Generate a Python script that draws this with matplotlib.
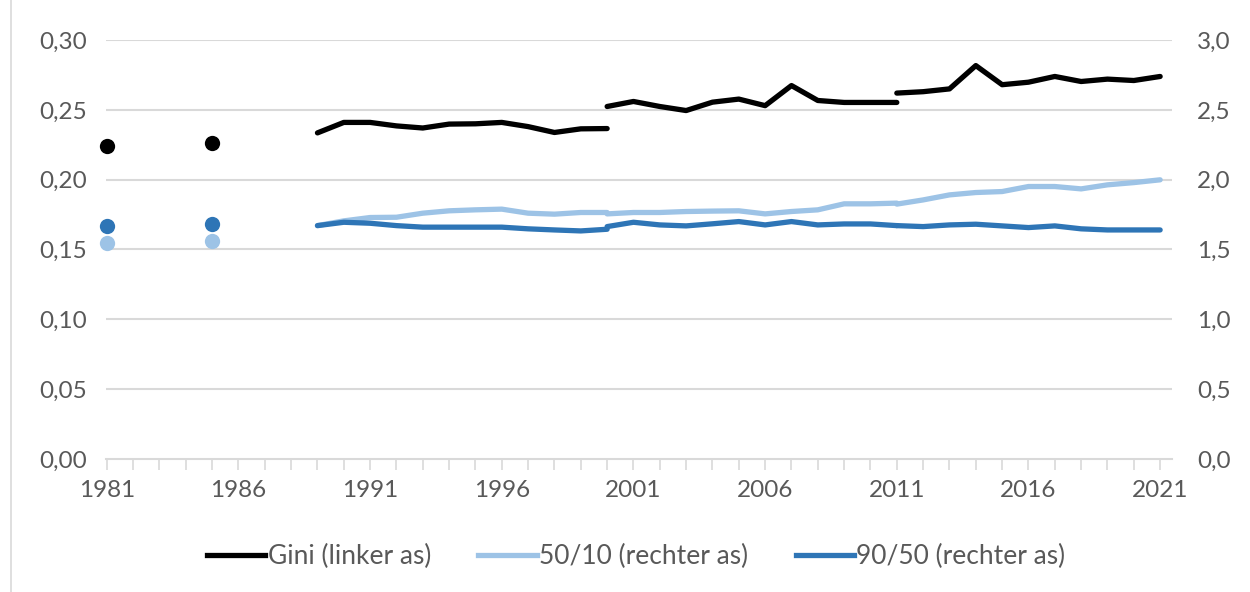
import matplotlib
matplotlib.use("Agg")
import matplotlib.pyplot as plt
from matplotlib.lines import Line2D
import numpy as np

# ---- data ----
dot_years = [1981, 1985]
gini_dots = [0.224, 0.226]
p5010_dots = [1.545, 1.562]
p9050_dots = [1.669, 1.681]

years_a = list(range(1989, 2001))
years_b = list(range(2000, 2012))
years_c = list(range(2011, 2022))

gini_a = [0.2335, 0.241, 0.241, 0.2385, 0.237, 0.2398, 0.240, 0.241, 0.238, 0.2338, 0.2364, 0.2366]
gini_b = [0.2524, 0.256, 0.2524, 0.2495, 0.2555, 0.2577, 0.253, 0.2674, 0.2567, 0.2553, 0.2553, 0.2553]
gini_c = [0.262, 0.263, 0.265, 0.2817, 0.268, 0.2698, 0.2739, 0.2703, 0.272, 0.271, 0.2739]

p5010_a = [1.671, 1.705, 1.729, 1.731, 1.760, 1.777, 1.784, 1.789, 1.760, 1.753, 1.765, 1.765]
p5010_b = [1.755, 1.765, 1.765, 1.772, 1.775, 1.777, 1.755, 1.772, 1.784, 1.827, 1.827, 1.832]
p5010_c = [1.825, 1.855, 1.891, 1.908, 1.915, 1.951, 1.951, 1.934, 1.963, 1.979, 1.999]

p9050_a = [1.671, 1.695, 1.688, 1.671, 1.660, 1.660, 1.660, 1.660, 1.648, 1.640, 1.633, 1.645]
p9050_b = [1.664, 1.695, 1.676, 1.669, 1.684, 1.700, 1.676, 1.700, 1.676, 1.683, 1.683, 1.671]
p9050_c = [1.671, 1.664, 1.676, 1.681, 1.669, 1.657, 1.669, 1.648, 1.640, 1.640, 1.640]

left_ticks = [0.00, 0.05, 0.10, 0.15, 0.20, 0.25, 0.30]
left_labels = ["0,00", "0,05", "0,10", "0,15", "0,20", "0,25", "0,30"]
right_ticks = [0.0, 0.5, 1.0, 1.5, 2.0, 2.5, 3.0]
right_labels = ["0,0", "0,5", "1,0", "1,5", "2,0", "2,5", "3,0"]
x_label_years = list(range(1981, 2022, 5))
legend_labels = ["Gini (linker as)", "50/10 (rechter as)", "90/50 (rechter as)"]

# ---- style ----
BLACK = "#000000"
LIGHT = "#9DC3E6"
DARK = "#2E75B6"
TXT = "#595959"
GRID = "#D9D9D9"
plt.rcParams['font.family'] = ['Lato', 'DejaVu Sans']
FS = 17.5
LFS = 19

fig = plt.figure(figsize=(12.5, 5.92), dpi=100)
ax = fig.add_axes([0.0848, 0.2247, 0.8528, 0.7077])
ax2 = ax.twinx()

lw = 3.8
ms = 11

# right axis series
for xs, ys in [(years_a, p5010_a), (years_b, p5010_b), (years_c, p5010_c)]:
    ax2.plot(xs, ys, color=LIGHT, lw=lw, solid_capstyle='round', solid_joinstyle='round')
for xs, ys in [(years_a, p9050_a), (years_b, p9050_b), (years_c, p9050_c)]:
    ax2.plot(xs, ys, color=DARK, lw=lw, solid_capstyle='round', solid_joinstyle='round')
ax2.plot(dot_years, p5010_dots, 'o', color=LIGHT, ms=ms, mec='none', clip_on=False)
ax2.plot(dot_years, p9050_dots, 'o', color=DARK, ms=ms, mec='none', clip_on=False)

# left axis (Gini) drawn on top
ax.set_zorder(ax2.get_zorder() + 1)
ax.patch.set_visible(False)
for xs, ys in [(years_a, gini_a), (years_b, gini_b), (years_c, gini_c)]:
    ax.plot(xs, ys, color=BLACK, lw=lw, solid_capstyle='round', solid_joinstyle='round')
ax.plot(dot_years, gini_dots, 'o', color=BLACK, ms=ms, mec='none', clip_on=False)

ax.set_ylim(0, 0.30)
ax2.set_ylim(0, 3.0)
ax.set_xlim(1980.97, 2021.45)

ax.set_yticks(left_ticks)
ax.set_yticklabels(left_labels)
ax2.set_yticks(right_ticks)
ax2.set_yticklabels(right_labels)

# gridlines (drawn on ax2 which is behind)
for t in right_ticks[1:]:
    ax2.axhline(t, color=GRID, lw=1.5, zorder=0)

for a in (ax, ax2):
    for s in ("top", "left", "right", "bottom"):
        a.spines[s].set_visible(False)
ax.spines["bottom"].set_visible(True)
ax.spines["bottom"].set_color(GRID)
ax.spines["bottom"].set_linewidth(1.5)

ax.tick_params(axis='y', length=0, labelsize=FS, labelcolor=TXT, pad=14)
ax2.tick_params(axis='y', length=0, labelsize=FS, labelcolor=TXT, pad=18)
ax.set_xticks(list(range(1981, 2022)), minor=True)
ax.set_xticks(x_label_years)
ax.set_xticklabels([str(y) for y in x_label_years])
ax.tick_params(axis='x', which='both', direction='out', length=8, width=1.2, color=GRID,
               labelsize=FS, labelcolor=TXT, pad=7)
ax.tick_params(axis='x', which='minor', labelbottom=False)

handles = [Line2D([0], [0], color=c, lw=lw) for c in (BLACK, LIGHT, DARK)]
fig.legend(handles, legend_labels, loc='center', bbox_to_anchor=(0.509, 0.06), ncol=3,
           frameon=False, fontsize=LFS, labelcolor=TXT, handlelength=2.2,
           handletextpad=0.1, columnspacing=1.8)

# outer chart border line at left
fig.add_artist(Line2D([0.009, 0.009], [0.0, 1.0], color=GRID, lw=1.2))

fig.savefig("out.png", dpi=100)
